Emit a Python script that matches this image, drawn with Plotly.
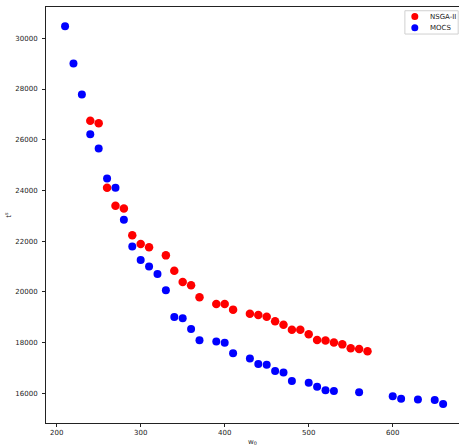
import plotly.graph_objects as go

nsga_x = [240, 250, 260, 270, 280, 290, 300, 310, 330, 340, 350, 360, 370, 390, 400,
          410, 430, 440, 450, 460, 470, 480, 490, 500, 510, 520, 530, 540, 550, 560, 570]
nsga_y = [26750, 26650, 24110, 23400, 23290, 22230, 21890, 21760, 21440, 20830, 20390, 20260, 19790, 19520, 19520,
          19300, 19140, 19090, 19020, 18840, 18700, 18510, 18510, 18330, 18100, 18080, 18000, 17930, 17780, 17750, 17660]

mocs_x = [210, 220, 230, 240, 250, 260, 270, 280, 290, 300, 310, 320, 330, 340, 350, 360, 370, 390, 400,
          410, 430, 440, 450, 460, 470, 480, 500, 510, 520, 530, 560, 600, 610, 630, 650, 660]
mocs_y = [30480, 29010, 27780, 26220, 25650, 24470, 24110, 22840, 21790, 21260, 21000, 20710, 20060, 19010, 18960, 18540, 18090, 18040, 17990,
          17580, 17370, 17160, 17130, 16880, 16820, 16490, 16420, 16260, 16120, 16090, 16040, 15880, 15790, 15760, 15740, 15580]

x_ticks = [200, 300, 400, 500, 600]
y_ticks = [16000, 18000, 20000, 22000, 24000, 26000, 28000, 30000]

series_names = ["NSGA-II", "MOCS"]
series_colors = ["#ff0000", "#0000ff"]

fig = go.Figure()
fig.add_trace(go.Scatter(x=nsga_x, y=nsga_y, mode="markers", name=series_names[0],
                         marker=dict(color=series_colors[0], size=8.5, line=dict(width=0))))
fig.add_trace(go.Scatter(x=mocs_x, y=mocs_y, mode="markers", name=series_names[1],
                         marker=dict(color=series_colors[1], size=8, line=dict(width=0))))

# compact legend box (matplotlib style), drawn in paper coordinates
shapes = [dict(type="rect", xref="paper", yref="paper", x0=0.869, x1=0.998, y0=0.935, y1=0.991,
               line=dict(color="#d0d0d0", width=1), fillcolor="rgba(255,255,255,0.8)", layer="above")]
annotations = []
row_y = [0.977, 0.950]
for name, color, yy in zip(series_names, series_colors, row_y):
    shapes.append(dict(type="circle", xref="paper", yref="paper", xsizemode="pixel", ysizemode="pixel",
                       xanchor=0.893, yanchor=yy, x0=-3.5, x1=3.5, y0=-3.5, y1=3.5,
                       fillcolor=color, line=dict(width=0), layer="above"))
    annotations.append(dict(xref="paper", yref="paper", x=0.925, y=yy, xanchor="left", yanchor="middle",
                            text=name, showarrow=False,
                            font=dict(family="DejaVu Sans", size=7, color="#222")))

axis_font = dict(family="DejaVu Sans", size=7, color="#222")
fig.update_layout(
    width=459, height=446,
    margin=dict(l=46, r=0, t=7, b=23),
    paper_bgcolor="white", plot_bgcolor="white",
    font=dict(family="DejaVu Sans", size=7, color="#222"),
    showlegend=False,
    shapes=shapes,
    annotations=annotations,
    xaxis=dict(range=[187.3, 678.9], tickvals=x_ticks, ticktext=[str(v) for v in x_ticks],
               ticks="outside", ticklen=3,
               tickcolor="#222", showline=True, linecolor="#222", linewidth=1, mirror=True,
               showgrid=False, zeroline=False, tickfont=axis_font,
               title=dict(text="w<sub>0</sub>", font=dict(family="DejaVu Sans", size=7), standoff=4)),
    yaxis=dict(range=[14829, 31235], tickvals=y_ticks, ticktext=[str(v) for v in y_ticks],
               ticks="outside", ticklen=3, ticklabelstandoff=3,
               tickcolor="#222", showline=True, linecolor="#222", linewidth=1, mirror=False,
               showgrid=False, zeroline=False, tickfont=axis_font,
               title=dict(text="t<sup>s</sup>", font=dict(family="DejaVu Sans", size=7), standoff=2)),
)

fig.write_html("out.html")
